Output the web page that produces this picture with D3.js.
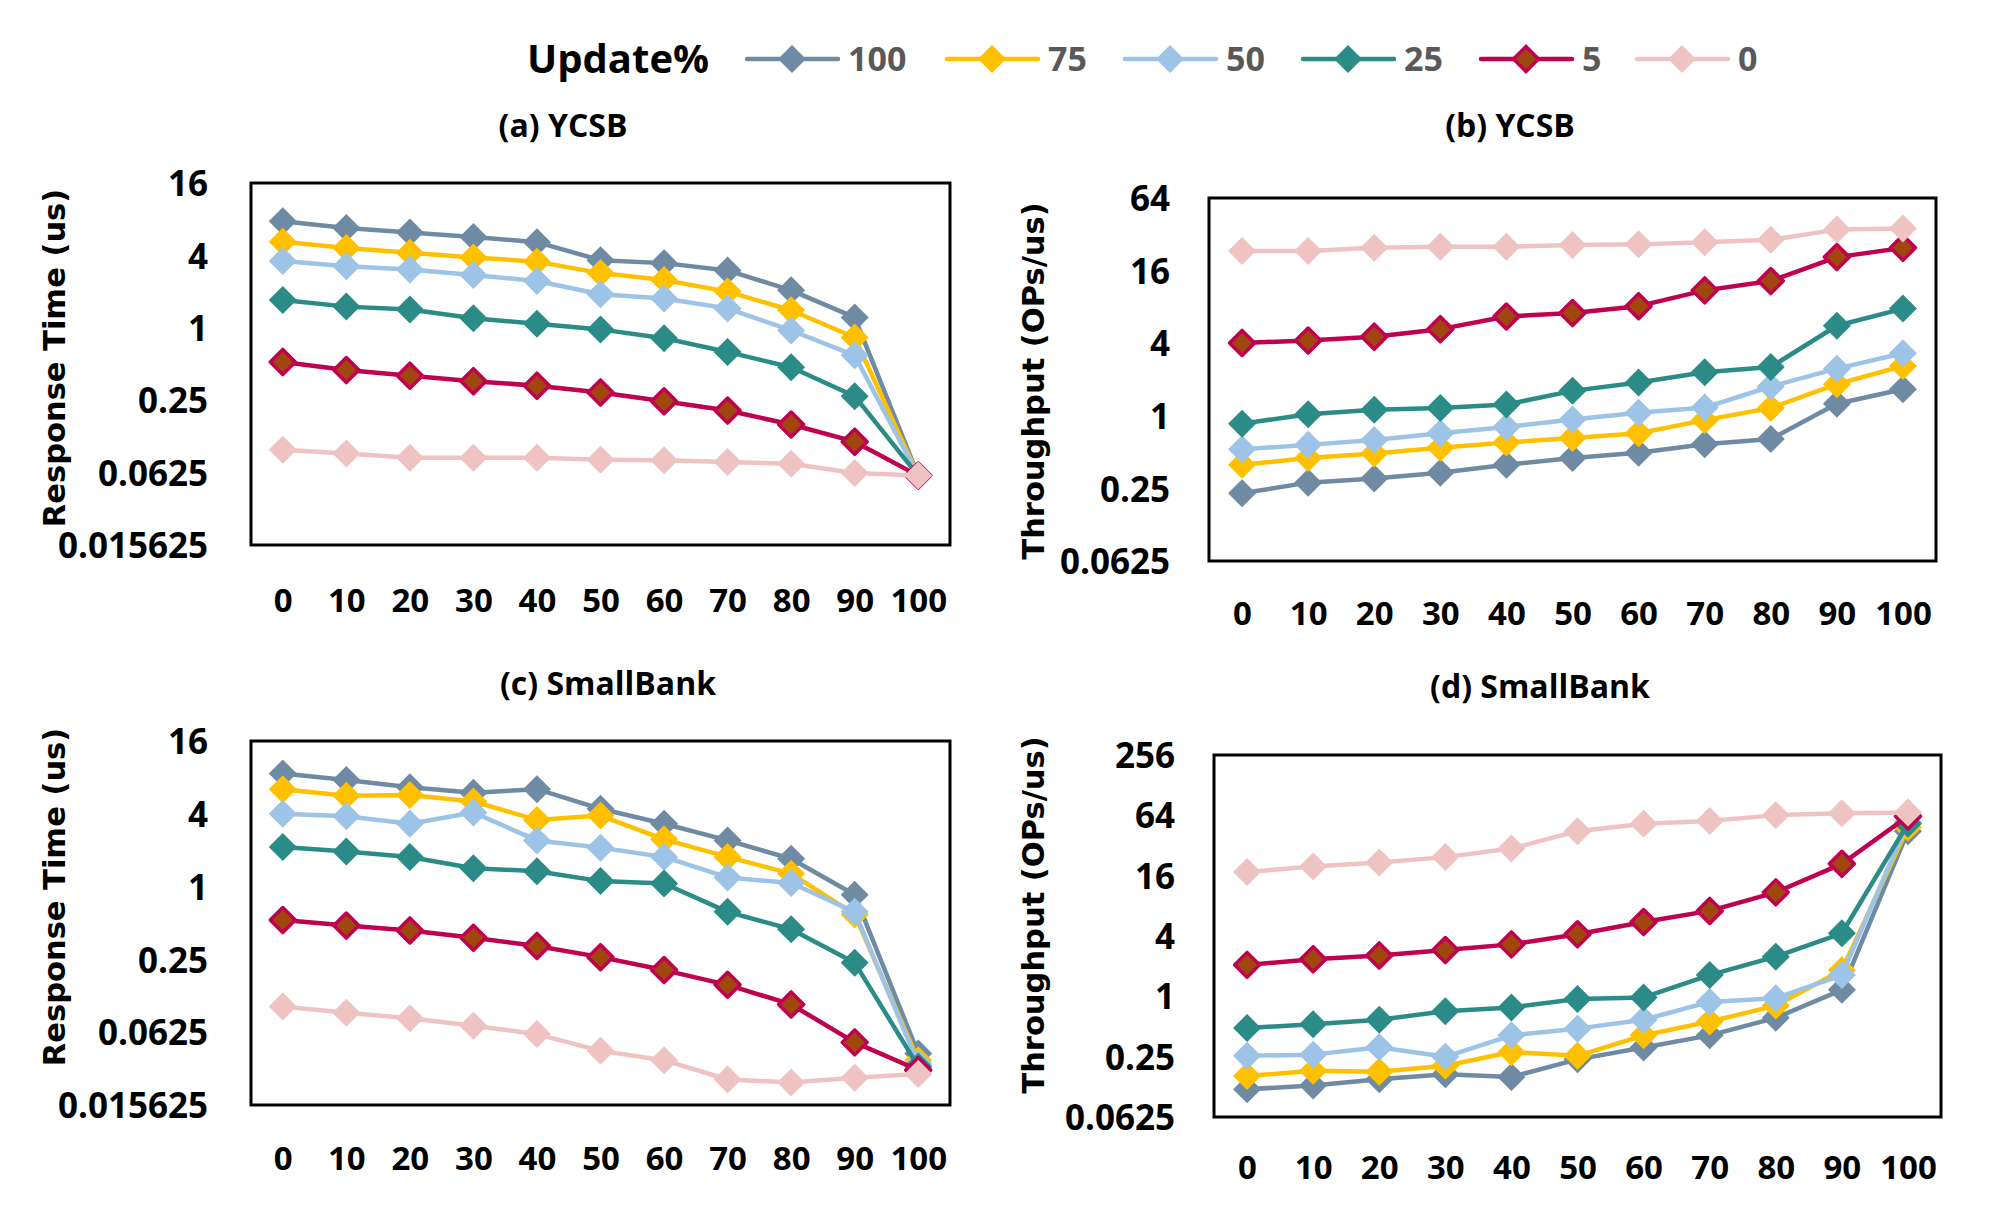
<!DOCTYPE html>
<html>
<head>
<meta charset="utf-8">
<script src="https://cdn.jsdelivr.net/npm/d3@7"></script>
<style>
  html, body { margin: 0; padding: 0; background: #fff; }
  svg { display: block; }
</style>
</head>
<body>
<svg id="chart" width="2000" height="1232"></svg>
<script>
// ---------------- DATA ----------------
const categories = [0, 10, 20, 30, 40, 50, 60, 70, 80, 90, 100];
const seriesNames = ["100", "75", "50", "25", "5", "0"];
const legendTitle = "Update%";

// (a) YCSB – Response Time (us)
const ycsbRT_100 = [7.7, 6.75, 6.2, 5.7, 5.15, 3.65, 3.45, 3.0, 2.05, 1.22, 0.059];
const ycsbRT_75  = [5.2, 4.6, 4.2, 3.85, 3.55, 2.85, 2.5, 2.0, 1.4, 0.83, 0.059];
const ycsbRT_50  = [3.6, 3.25, 3.05, 2.75, 2.45, 1.9, 1.75, 1.45, 0.95, 0.59, 0.059];
const ycsbRT_25  = [1.7, 1.5, 1.42, 1.2, 1.08, 0.97, 0.82, 0.63, 0.47, 0.27, 0.059];
const ycsbRT_5   = [0.52, 0.445, 0.4, 0.36, 0.33, 0.29, 0.245, 0.205, 0.157, 0.113, 0.059];
const ycsbRT_0   = [0.097, 0.09, 0.083, 0.083, 0.083, 0.08, 0.079, 0.0765, 0.074, 0.062, 0.059];

// (b) YCSB – Throughput (OPs/us)
const ycsbTP_100 = [0.228, 0.279, 0.302, 0.337, 0.392, 0.447, 0.493, 0.581, 0.641, 1.26, 1.66];
const ycsbTP_75  = [0.392, 0.447, 0.487, 0.544, 0.6, 0.654, 0.717, 0.92, 1.16, 1.83, 2.59];
const ycsbTP_50  = [0.527, 0.574, 0.629, 0.717, 0.806, 0.932, 1.06, 1.17, 1.75, 2.46, 3.3];
const ycsbTP_25  = [0.861, 1.03, 1.12, 1.16, 1.24, 1.61, 1.89, 2.3, 2.54, 5.58, 7.75];
const ycsbTP_5   = [4.02, 4.21, 4.53, 5.23, 6.66, 7.11, 8.11, 10.97, 13.1, 20.7, 24.7];
const ycsbTP_0   = [23.3, 23.3, 24.7, 25.2, 25.2, 26.1, 26.4, 27.5, 28.8, 35.0, 35.7];

// (c) SmallBank – Response Time (us)
const sbRT_100 = [8.6, 7.62, 6.62, 5.96, 6.39, 4.4, 3.31, 2.41, 1.7, 0.855, 0.0417];
const sbRT_75  = [6.39, 5.63, 5.71, 5.06, 3.56, 3.87, 2.46, 1.76, 1.28, 0.588, 0.0367];
const sbRT_50  = [4.01, 3.82, 3.31, 4.1, 2.41, 2.1, 1.76, 1.19, 1.07, 0.618, 0.0342];
const sbRT_25  = [2.13, 1.95, 1.76, 1.42, 1.34, 1.11, 1.06, 0.618, 0.444, 0.235, 0.0326];
const sbRT_5   = [0.529, 0.476, 0.434, 0.377, 0.323, 0.261, 0.204, 0.154, 0.106, 0.0515, 0.0304];
const sbRT_0   = [0.102, 0.0905, 0.0815, 0.0708, 0.0603, 0.0438, 0.0367, 0.0254, 0.024, 0.0263, 0.0282];

// (d) SmallBank – Throughput (OPs/us)
const sbTP_100 = [0.118, 0.129, 0.149, 0.167, 0.157, 0.235, 0.308, 0.408, 0.61, 1.16, 44.5];
const sbTP_75  = [0.16, 0.181, 0.177, 0.203, 0.278, 0.255, 0.408, 0.56, 0.808, 1.82, 48.5];
const sbTP_50  = [0.255, 0.262, 0.311, 0.249, 0.408, 0.476, 0.584, 0.88, 0.958, 1.63, 55.1];
const sbTP_25  = [0.484, 0.527, 0.584, 0.711, 0.774, 0.942, 0.975, 1.63, 2.49, 4.26, 52.8];
const sbTP_5   = [2.06, 2.35, 2.56, 2.9, 3.3, 4.16, 5.51, 7.12, 10.9, 21.0, 62.6];
const sbTP_0   = [17.4, 19.8, 21.6, 24.5, 29.8, 44.5, 52.8, 56.1, 64.3, 67.1, 68.2];

// tick labels
const rtTicks = [16, 4, 1, 0.25, 0.0625, 0.015625];
const ycsbTpTicks = [64, 16, 4, 1, 0.25, 0.0625];
const sbTpTicks = [256, 64, 16, 4, 1, 0.25, 0.0625];

const panelTitles = ["(a) YCSB", "(b) YCSB", "(c) SmallBank", "(d) SmallBank"];
const rtAxisTitle = "Response Time (us)";
const tpAxisTitle = "Throughput (OPs/us)";

// ---------------- STYLE ----------------
const lineColors   = { "100": "#6F8AA3", "75": "#FFC000", "50": "#9DC3E6", "25": "#2A8B87", "5": "#C00050", "0": "#F0C3C3" };
const markerFill   = { "100": "#6F8AA3", "75": "#FFC000", "50": "#9DC3E6", "25": "#2A8B87", "5": "#A0470E", "0": "#F0C3C3" };
const markerStroke = { "100": "none", "75": "none", "50": "none", "25": "none", "5": "#C00050", "0": "none" };

const TICK_FONT = "'Open Sans', 'Noto Sans', sans-serif";
const AXIS_FONT = "'DejaVu Sans', Verdana, sans-serif";

const svg = d3.select("#chart");

function diamond(r) {
  return `M0,${-r}L${r},0L0,${r}L${-r},0Z`;
}

const panels = [
  { title: panelTitles[0], axisTitle: rtAxisTitle, ticks: rtTicks,
    series: [ycsbRT_100, ycsbRT_75, ycsbRT_50, ycsbRT_25, ycsbRT_5, ycsbRT_0],
    box: { l: 251, r: 950, t: 183, b: 545 }, tickRight: 208, xLabelY: 600,
    titleX: 563, titleY: 125, axisTitleX: 54, axisTitleY: 358 },
  { title: panelTitles[1], axisTitle: tpAxisTitle, ticks: ycsbTpTicks,
    series: [ycsbTP_100, ycsbTP_75, ycsbTP_50, ycsbTP_25, ycsbTP_5, ycsbTP_0],
    box: { l: 1209, r: 1936, t: 198, b: 561 }, tickRight: 1170, xLabelY: 613,
    titleX: 1510, titleY: 125, axisTitleX: 1033, axisTitleY: 381 },
  { title: panelTitles[2], axisTitle: rtAxisTitle, ticks: rtTicks,
    series: [sbRT_100, sbRT_75, sbRT_50, sbRT_25, sbRT_5, sbRT_0],
    box: { l: 251, r: 950, t: 741, b: 1105 }, tickRight: 208, xLabelY: 1158,
    titleX: 608, titleY: 683, axisTitleX: 54, axisTitleY: 897 },
  { title: panelTitles[3], axisTitle: tpAxisTitle, ticks: sbTpTicks,
    series: [sbTP_100, sbTP_75, sbTP_50, sbTP_25, sbTP_5, sbTP_0],
    box: { l: 1214, r: 1941, t: 755, b: 1117 }, tickRight: 1175, xLabelY: 1167,
    titleX: 1540, titleY: 686, axisTitleX: 1033, axisTitleY: 915 }
];

panels.forEach(p => {
  const g = svg.append("g");
  const x = d3.scalePoint().domain(categories).range([p.box.l, p.box.r]).padding(0.5);
  const y = d3.scaleLog().base(2)
    .domain([d3.min(p.ticks), d3.max(p.ticks)])
    .range([p.box.b, p.box.t]);

  // frame
  g.append("rect")
    .attr("x", p.box.l).attr("y", p.box.t)
    .attr("width", p.box.r - p.box.l).attr("height", p.box.b - p.box.t)
    .attr("fill", "none").attr("stroke", "#000").attr("stroke-width", 3);

  // y axis labels
  const yAxis = d3.axisLeft(y).tickValues(p.ticks).tickFormat(d => String(d)).tickSize(0).tickPadding(0);
  const ya = g.append("g").attr("transform", `translate(${p.tickRight},0)`).call(yAxis);
  ya.select(".domain").remove();
  ya.selectAll("text")
    .attr("font-family", TICK_FONT).attr("font-weight", 700).attr("font-size", 35)
    .attr("fill", "#000").attr("dy", "0.36em");

  // x axis labels
  const xAxis = d3.axisBottom(x).tickSize(0).tickPadding(0).tickFormat(d => String(d));
  const xa = g.append("g").attr("transform", `translate(0,${p.xLabelY})`).call(xAxis);
  xa.select(".domain").remove();
  xa.selectAll("text")
    .attr("font-family", TICK_FONT).attr("font-weight", 700).attr("font-size", 33)
    .attr("fill", "#000").attr("dy", "0.36em");

  // title
  g.append("text").attr("x", p.titleX).attr("y", p.titleY)
    .attr("text-anchor", "middle").attr("dy", "0.36em")
    .attr("font-family", TICK_FONT).attr("font-weight", 700).attr("font-size", 32)
    .text(p.title);

  // axis title
  g.append("text")
    .attr("transform", `translate(${p.axisTitleX},${p.axisTitleY}) rotate(-90)`)
    .attr("text-anchor", "middle").attr("dy", "0.36em")
    .attr("font-family", AXIS_FONT).attr("font-weight", 700).attr("font-size", 30.5)
    .text(p.axisTitle);

  // series
  const line = d3.line().x((d, i) => x(categories[i])).y(d => y(d));
  p.series.forEach((vals, si) => {
    const name = seriesNames[si];
    const sg = g.append("g");
    sg.append("path").attr("d", line(vals))
      .attr("fill", "none").attr("stroke", lineColors[name])
      .attr("stroke-width", 4.5).attr("stroke-linejoin", "round");
    sg.selectAll("path.m").data(vals).join("path").attr("class", "m")
      .attr("transform", (d, i) => `translate(${x(categories[i])},${y(d)})`)
      .attr("d", name === "5" ? diamond(12.5) : diamond(14))
      .attr("fill", markerFill[name])
      .attr("stroke", markerStroke[name])
      .attr("stroke-width", name === "5" ? 3.5 : 0)
      .attr("stroke-linejoin", "round");
  });
});

// ---------------- LEGEND ----------------
const legY = 59;
const lg = svg.append("g");
lg.append("text").attr("x", 527).attr("y", legY).attr("dy", "0.36em")
  .attr("font-family", TICK_FONT).attr("font-weight", 700).attr("font-size", 40)
  .attr("fill", "#000").text(legendTitle);

let cx = 747;
seriesNames.forEach(name => {
  const e = lg.append("g");
  e.append("line").attr("x1", cx).attr("x2", cx + 91).attr("y1", legY).attr("y2", legY)
    .attr("stroke", lineColors[name]).attr("stroke-width", 4.5).attr("stroke-linecap", "round");
  e.append("path").attr("transform", `translate(${cx + 45},${legY})`)
    .attr("d", name === "5" ? diamond(12.5) : diamond(14))
    .attr("fill", markerFill[name]).attr("stroke", markerStroke[name])
    .attr("stroke-width", name === "5" ? 3.5 : 0);
  e.append("text").attr("x", cx + 101).attr("y", legY).attr("dy", "0.36em")
    .attr("font-family", TICK_FONT).attr("font-weight", 700).attr("font-size", 34)
    .attr("fill", "#595959").text(name);
  cx = cx + 134 + 22 * name.length;
});
</script>
</body>
</html>
